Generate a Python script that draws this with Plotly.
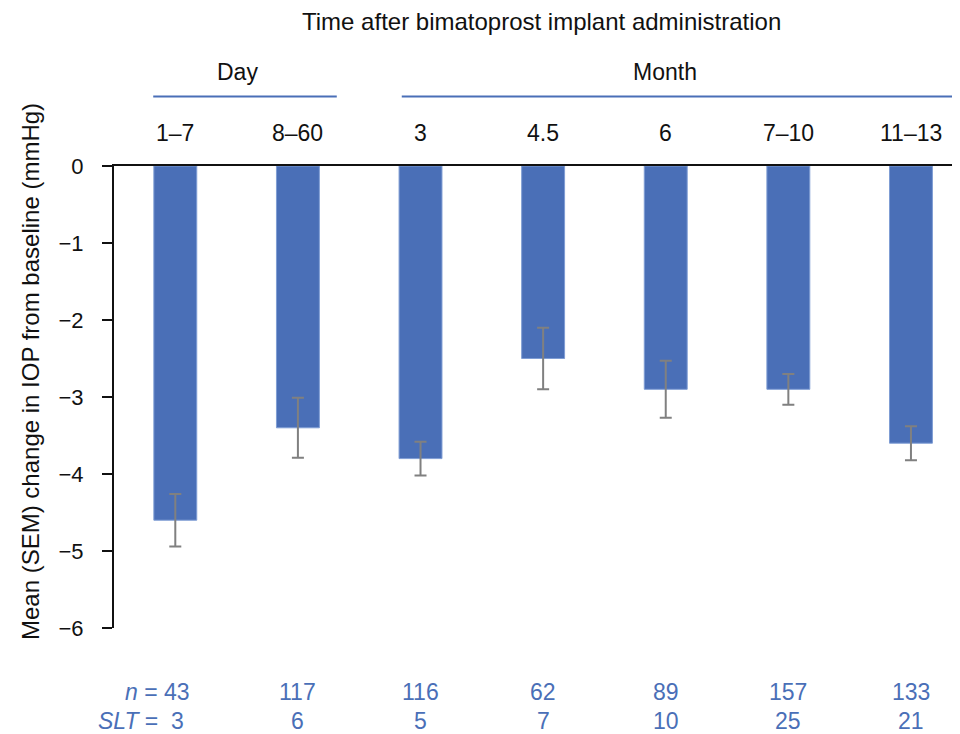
import plotly.graph_objects as go

categories = ["1–7", "8–60", "3", "4.5", "6", "7–10", "11–13"]
mean_change = [-4.6, -3.4, -3.8, -2.5, -2.9, -2.9, -3.6]
sem = [0.34, 0.39, 0.22, 0.40, 0.37, 0.20, 0.22]
n_values = ["43", "117", "116", "62", "89", "157", "133"]
slt_values = ["3", "6", "5", "7", "10", "25", "21"]
y_ticks = [0, -1, -2, -3, -4, -5, -6]

BLUE = "#4a6fb7"
TXT = "#111111"
FONT = "Liberation Sans, Arial, sans-serif"
FS = 23

fig = go.Figure()
fig.add_trace(go.Bar(
    x=categories, y=mean_change, width=0.35,
    marker=dict(color=BLUE, line=dict(color="#7f9dd4", width=1)),
    error_y=dict(type="data", array=sem, visible=True, color="#808080",
                 thickness=2, width=6),
))

# page body has an 8px margin: figure pixel = reference pixel - 8
def py(Y):
    return (628 - Y) / 462

def px(X):
    return (X - 114) / 846

def note(text, x, y, xref="paper", color=TXT, size=FS, **kw):
    d = dict(text=text, xref=xref, yref="paper", x=x, y=y, showarrow=False,
             xanchor=kw.pop("xanchor", "center"), yanchor="middle",
             font=dict(size=size, color=color, family=FONT))
    d.update(kw)
    return d

ann = []
ann.append(note("Time after bimatoprost implant administration", px(541), py(22), size=24))
ann.append(note("Day", px(237), py(72)))
ann.append(note("Month", px(665), py(72)))
for i, c in enumerate(categories):
    ann.append(note(c, i, py(133), xref="x"))
for i, c in enumerate(categories):
    if i == 0:
        ann.append(note("<i>n</i> = " + n_values[i], i, py(692), xref="x", color=BLUE,
                        xanchor="right", xshift=17))
        ann.append(note("<i>SLT</i> =  " + slt_values[i], i, py(721), xref="x", color=BLUE,
                        xanchor="right", xshift=11))
    else:
        ann.append(note(n_values[i], i, py(692), xref="x", color=BLUE))
        ann.append(note(slt_values[i], i, py(721), xref="x", color=BLUE))
ann.append(note("Mean (SEM) change in IOP from baseline (mmHg)", 0, py(372), xshift=-(114 - 30),
                textangle=-90, size=24))

shapes = [
    dict(type="line", xref="x", yref="paper", x0=-0.18, x1=1.317, y0=py(96.5), y1=py(96.5),
         line=dict(color=BLUE, width=2)),
    dict(type="line", xref="x", yref="paper", x0=1.847, x1=6.36, y0=py(96.5), y1=py(96.5),
         line=dict(color=BLUE, width=2)),
]

fig.update_layout(
    width=952, height=726,
    margin=dict(l=106, r=0, t=158, b=106),
    paper_bgcolor="white", plot_bgcolor="white",
    font=dict(family=FONT, size=FS, color=TXT),
    showlegend=False,
    annotations=ann, shapes=shapes,
    xaxis=dict(type="category", range=[-0.5, 6.4], side="top", showline=True, linecolor=TXT,
               linewidth=2, showticklabels=False, ticks="", showgrid=False, zeroline=False),
    yaxis=dict(range=[-6, 0], tickvals=y_ticks, showline=True, linecolor=TXT, linewidth=2,
               ticks="outside", ticklen=10, tickwidth=2, tickcolor=TXT, showgrid=False,
               zeroline=False, ticklabelstandoff=14, tickfont=dict(size=22)),
)

fig.write_html("out.html")
